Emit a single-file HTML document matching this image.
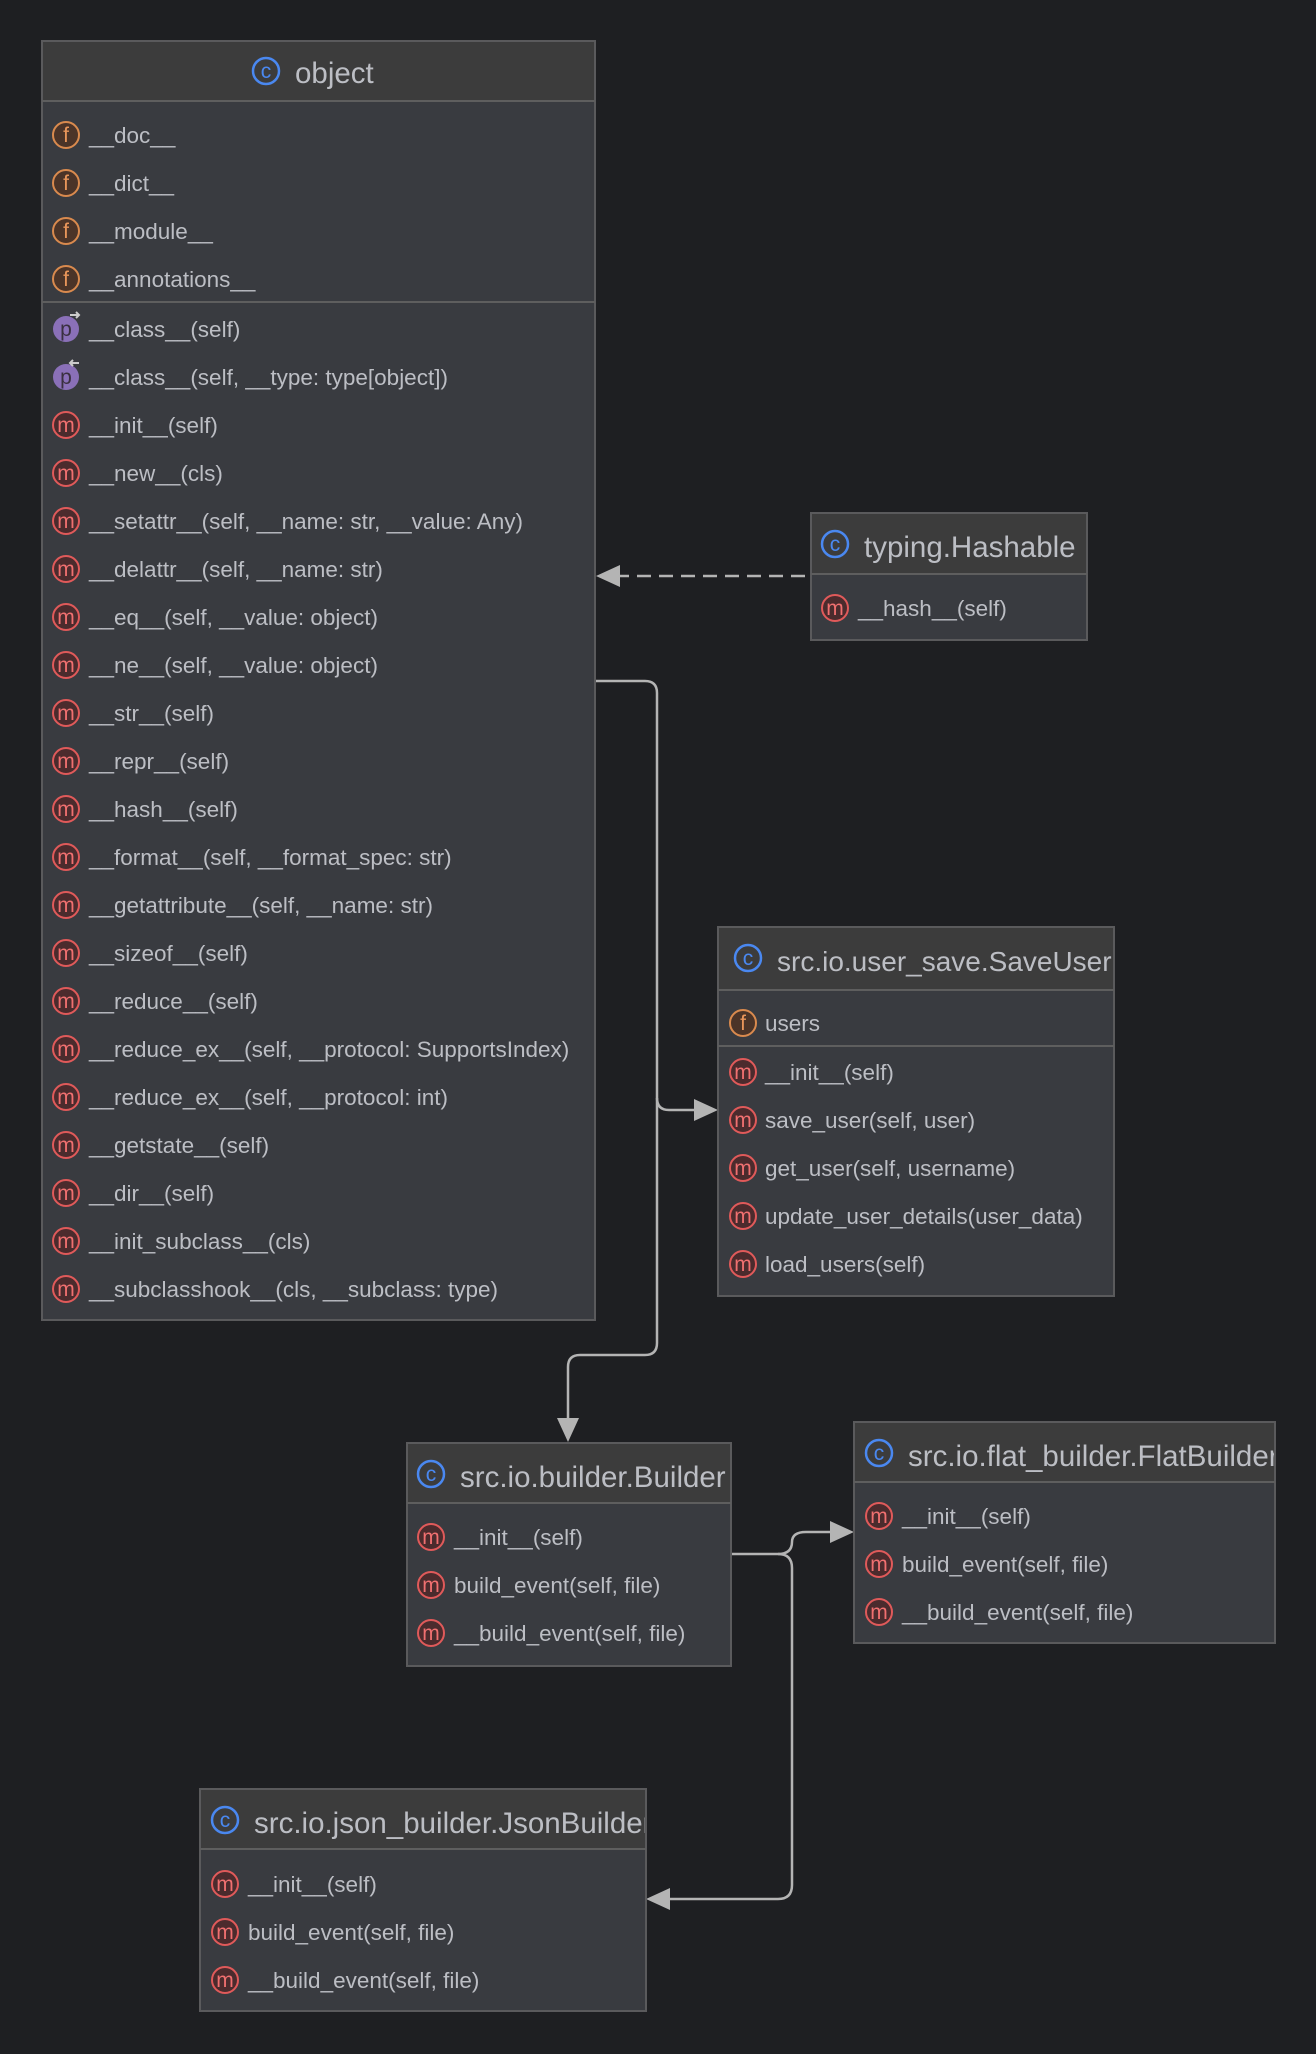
<!DOCTYPE html>
<html><head><meta charset="utf-8"><style>
html,body{margin:0;padding:0;background:#1e1f22;}
svg{display:block}
text{font-family:"Liberation Sans",sans-serif;fill:#bcbec4;}
.t{font-size:29.5px}
.r{font-size:22.5px}
.il{font-size:21px;text-anchor:middle}
</style></head><body>
<svg width="1316" height="2054" viewBox="0 0 1316 2054" xmlns="http://www.w3.org/2000/svg">
<defs>
<g id="m"><circle r="13" fill="#4b2b2d" stroke="#e05a5a" stroke-width="2"/><text class="il" y="7" style="fill:#f07070">m</text></g>
<g id="f"><circle r="13" fill="#4b3428" stroke="#d98a4e" stroke-width="2"/><text class="il" y="7" style="fill:#e8955a">f</text></g>
<g id="p"><circle r="13" fill="#8a70b8"/><text class="il" y="7" style="fill:#3a3040">p</text><path d="M4 -14 h9 M10 -17 l3 3 -3 3" stroke="#ccc" stroke-width="2" fill="none"/></g>
<g id="p2"><circle r="13" fill="#8a70b8"/><text class="il" y="7" style="fill:#3a3040">p</text><path d="M4 -14 h9 M7 -17 l-3 3 3 3" stroke="#ccc" stroke-width="2" fill="none"/></g>
<g id="c"><circle r="13" fill="none" stroke="#4a88f0" stroke-width="2.5"/><text class="il" y="7" style="fill:#4a88f0">c</text></g>
</defs>

<g stroke="#b4b4b4" stroke-width="2.5" fill="none">
<path d="M805 576 H615" stroke-dasharray="14 8"/>
<path d="M595 681 H645 Q657 681 657 693 V1098 Q657 1110 669 1110 H700"/>
<path d="M657 1098 V1343 Q657 1355 645 1355 H580 Q568 1355 568 1367 V1420"/>
<path d="M731 1554 H778 Q792 1554 792 1542 Q792 1532 806 1532 H835"/>
<path d="M778 1554 Q792 1554 792 1568 V1885 Q792 1899 778 1899 H665"/>
</g>
<g fill="#b4b4b4">
<path d="M596 576 L620 565 L620 587Z"/>
<path d="M718 1110 L694 1099 L694 1121Z"/>
<path d="M568 1442 L557 1418 L579 1418Z"/>
<path d="M854 1532 L830 1521 L830 1543Z"/>
<path d="M646 1899 L670 1888 L670 1910Z"/>
</g>

<rect x="42" y="41" width="553" height="1279" fill="#393b40" stroke="#5a5a5c" stroke-width="2"/>
<rect x="43" y="42" width="551" height="59" fill="#3c3c3c"/>
<line x1="42" y1="101" x2="595" y2="101" stroke="#5e5e5e" stroke-width="2"/>
<line x1="42" y1="302" x2="595" y2="302" stroke="#5e5e5e" stroke-width="2"/>
<use href="#c" x="266" y="71"/><text class="t" x="295" y="83">object</text>
<use href="#f" x="66" y="135"/><text class="r" x="89" y="143">__doc__</text>
<use href="#f" x="66" y="183"/><text class="r" x="89" y="191">__dict__</text>
<use href="#f" x="66" y="231"/><text class="r" x="89" y="239">__module__</text>
<use href="#f" x="66" y="279"/><text class="r" x="89" y="287">__annotations__</text>
<use href="#p" x="66" y="329"/><text class="r" x="89" y="337">__class__(self)</text>
<use href="#p2" x="66" y="377"/><text class="r" x="89" y="385">__class__(self, __type: type[object])</text>
<use href="#m" x="66" y="425"/><text class="r" x="89" y="433">__init__(self)</text>
<use href="#m" x="66" y="473"/><text class="r" x="89" y="481">__new__(cls)</text>
<use href="#m" x="66" y="521"/><text class="r" x="89" y="529">__setattr__(self, __name: str, __value: Any)</text>
<use href="#m" x="66" y="569"/><text class="r" x="89" y="577">__delattr__(self, __name: str)</text>
<use href="#m" x="66" y="617"/><text class="r" x="89" y="625">__eq__(self, __value: object)</text>
<use href="#m" x="66" y="665"/><text class="r" x="89" y="673">__ne__(self, __value: object)</text>
<use href="#m" x="66" y="713"/><text class="r" x="89" y="721">__str__(self)</text>
<use href="#m" x="66" y="761"/><text class="r" x="89" y="769">__repr__(self)</text>
<use href="#m" x="66" y="809"/><text class="r" x="89" y="817">__hash__(self)</text>
<use href="#m" x="66" y="857"/><text class="r" x="89" y="865">__format__(self, __format_spec: str)</text>
<use href="#m" x="66" y="905"/><text class="r" x="89" y="913">__getattribute__(self, __name: str)</text>
<use href="#m" x="66" y="953"/><text class="r" x="89" y="961">__sizeof__(self)</text>
<use href="#m" x="66" y="1001"/><text class="r" x="89" y="1009">__reduce__(self)</text>
<use href="#m" x="66" y="1049"/><text class="r" x="89" y="1057">__reduce_ex__(self, __protocol: SupportsIndex)</text>
<use href="#m" x="66" y="1097"/><text class="r" x="89" y="1105">__reduce_ex__(self, __protocol: int)</text>
<use href="#m" x="66" y="1145"/><text class="r" x="89" y="1153">__getstate__(self)</text>
<use href="#m" x="66" y="1193"/><text class="r" x="89" y="1201">__dir__(self)</text>
<use href="#m" x="66" y="1241"/><text class="r" x="89" y="1249">__init_subclass__(cls)</text>
<use href="#m" x="66" y="1289"/><text class="r" x="89" y="1297">__subclasshook__(cls, __subclass: type)</text>

<rect x="811" y="513" width="276" height="127" fill="#393b40" stroke="#5a5a5c" stroke-width="2"/>
<rect x="812" y="514" width="274" height="60" fill="#3c3c3c"/>
<line x1="811" y1="574" x2="1087" y2="574" stroke="#5e5e5e" stroke-width="2"/>
<use href="#c" x="835" y="544"/><text class="t" x="864" y="557">typing.Hashable</text>
<use href="#m" x="835" y="608"/><text class="r" x="858" y="616">__hash__(self)</text>

<rect x="718" y="927" width="396" height="369" fill="#393b40" stroke="#5a5a5c" stroke-width="2"/>
<rect x="719" y="928" width="394" height="62" fill="#3c3c3c"/>
<line x1="718" y1="990" x2="1114" y2="990" stroke="#5e5e5e" stroke-width="2"/>
<line x1="718" y1="1046" x2="1114" y2="1046" stroke="#5e5e5e" stroke-width="2"/>
<svg x="718" y="927" width="395" height="63"><use href="#c" x="30" y="31"/><text class="t" x="59" y="44" style="font-size:28px">src.io.user_save.SaveUser</text></svg>
<use href="#f" x="743" y="1023"/><text class="r" x="765" y="1031">users</text>
<use href="#m" x="743" y="1072"/><text class="r" x="765" y="1080">__init__(self)</text>
<use href="#m" x="743" y="1120"/><text class="r" x="765" y="1128">save_user(self, user)</text>
<use href="#m" x="743" y="1168"/><text class="r" x="765" y="1176">get_user(self, username)</text>
<use href="#m" x="743" y="1216"/><text class="r" x="765" y="1224">update_user_details(user_data)</text>
<use href="#m" x="743" y="1264"/><text class="r" x="765" y="1272">load_users(self)</text>

<rect x="407" y="1443" width="324" height="223" fill="#393b40" stroke="#5a5a5c" stroke-width="2"/>
<rect x="408" y="1444" width="322" height="59" fill="#3c3c3c"/>
<line x1="407" y1="1503" x2="731" y2="1503" stroke="#5e5e5e" stroke-width="2"/>
<svg x="407" y="1443" width="323" height="60"><use href="#c" x="24" y="31"/><text class="t" x="53" y="44">src.io.builder.Builder</text></svg>
<use href="#m" x="431" y="1537"/><text class="r" x="454" y="1545">__init__(self)</text>
<use href="#m" x="431" y="1585"/><text class="r" x="454" y="1593">build_event(self, file)</text>
<use href="#m" x="431" y="1633"/><text class="r" x="454" y="1641">__build_event(self, file)</text>

<rect x="854" y="1422" width="421" height="221" fill="#393b40" stroke="#5a5a5c" stroke-width="2"/>
<rect x="855" y="1423" width="419" height="59" fill="#3c3c3c"/>
<line x1="854" y1="1482" x2="1275" y2="1482" stroke="#5e5e5e" stroke-width="2"/>
<svg x="854" y="1422" width="420" height="60"><use href="#c" x="25" y="31"/><text class="t" x="54" y="44">src.io.flat_builder.FlatBuilder</text></svg>
<use href="#m" x="879" y="1516"/><text class="r" x="902" y="1524">__init__(self)</text>
<use href="#m" x="879" y="1564"/><text class="r" x="902" y="1572">build_event(self, file)</text>
<use href="#m" x="879" y="1612"/><text class="r" x="902" y="1620">__build_event(self, file)</text>

<rect x="200" y="1789" width="446" height="222" fill="#393b40" stroke="#5a5a5c" stroke-width="2"/>
<rect x="201" y="1790" width="444" height="59" fill="#3c3c3c"/>
<line x1="200" y1="1849" x2="646" y2="1849" stroke="#5e5e5e" stroke-width="2"/>
<svg x="200" y="1789" width="445" height="60"><use href="#c" x="25" y="31"/><text class="t" x="54" y="44">src.io.json_builder.JsonBuilder</text></svg>
<use href="#m" x="225" y="1884"/><text class="r" x="248" y="1892">__init__(self)</text>
<use href="#m" x="225" y="1932"/><text class="r" x="248" y="1940">build_event(self, file)</text>
<use href="#m" x="225" y="1980"/><text class="r" x="248" y="1988">__build_event(self, file)</text>
</svg>
</body></html>
